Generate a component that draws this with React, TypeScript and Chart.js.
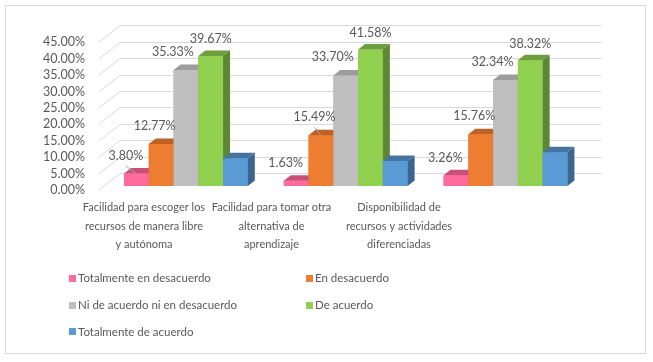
import React, { useEffect, useRef } from "react";
import { Chart, registerables } from "chart.js";

Chart.register(...registerables);

// ---------- data ----------
const categories = [
  ["Facilidad para escoger los", "recursos de manera libre", "y autónoma"],
  ["Facilidad para tomar otra", "alternativa de", "aprendizaje"],
  ["Disponibilidad de", "recursos y actividades", "diferenciadas"],
];
const seriesNames = [
  "Totalmente en desacuerdo",
  "En desacuerdo",
  "Ni de acuerdo ni en desacuerdo",
  "De acuerdo",
  "Totalmente de acuerdo",
];
const totalmenteEnDesacuerdo = [3.8, 1.63, 3.26];
const enDesacuerdo = [12.77, 15.49, 15.76];
const niDeAcuerdoNiEnDesacuerdo = [35.33, 33.7, 32.34];
const deAcuerdo = [39.67, 41.58, 38.32];
const totalmenteDeAcuerdo = [8.43, 7.6, 10.32];
const showValueLabel = [true, true, true, true, false];
const yTickValues = [0, 5, 10, 15, 20, 25, 30, 35, 40, 45];

const seriesValues = [
  totalmenteEnDesacuerdo,
  enDesacuerdo,
  niDeAcuerdoNiEnDesacuerdo,
  deAcuerdo,
  totalmenteDeAcuerdo,
];

// ---------- styles ----------
const FRONT = ["#FF6B9D", "#ED7D31", "#BFBFBF", "#92D050", "#5B9BD5"];
const TOP = ["#C9507A", "#BB6224", "#9C9C9C", "#6F9E3E", "#44749F"];
const SIDE = ["#B4466C", "#A5551E", "#8A8A8A", "#5E8634", "#3A6690"];
const LABEL_DX = [-10.5, -6.5, -13, 0];
const LABEL_DY = [-17.5, -18, -18, -16.7];
// labels that carry a small leader line: [series, category]
const LEADER_LINES = [
  [0, 0],
  [1, 1],
];
const TEXT = "#595959";
const GRID = "#D9D9D9";
const FONT = "Lato, 'Open Sans', sans-serif";

const BAR_DX = 7;
const BAR_DY = 5.5;
const WALL_FRONT_OFF = 4; // wall front plane below bar front plane
const WALL_DX_FRONT = -7;
const WALL_DX_BACK = 14;
const WALL_DY = 17;
const WALL_RIGHT_EXT = 16;

const depth3d = {
  id: "depth3d",
  beforeDatasetsDraw(chart: any) {
    const { ctx, chartArea, scales } = chart;
    const y = scales.y;
    ctx.save();
    ctx.strokeStyle = GRID;
    ctx.lineWidth = 1;
    yTickValues.forEach((v) => {
      const yf = y.getPixelForValue(v) + WALL_FRONT_OFF;
      const yb = Math.round(yf - WALL_DY) + 0.5;
      ctx.beginPath();
      ctx.moveTo(chartArea.left + WALL_DX_FRONT, yf);
      ctx.lineTo(chartArea.left + WALL_DX_BACK, yb);
      ctx.lineTo(chartArea.right + WALL_RIGHT_EXT, yb);
      ctx.stroke();
    });
    ctx.restore();
  },
  afterDatasetsDraw(chart: any) {
    const { ctx } = chart;
    ctx.save();
    const n = categories.length;
    for (let i = 0; i < n; i++) {
      for (let d = 0; d < seriesValues.length; d++) {
        const el = chart.getDatasetMeta(d).data[i];
        if (!el) continue;
        const p = el.getProps(["x", "y", "base", "width"], true);
        const x0 = p.x - p.width / 2;
        const x1 = p.x + p.width / 2;
        const top = p.y;
        const base = p.base;
        // front
        ctx.fillStyle = FRONT[d];
        ctx.fillRect(x0, top, x1 - x0, base - top);
        // top face
        ctx.fillStyle = TOP[d];
        ctx.beginPath();
        ctx.moveTo(x0, top);
        ctx.lineTo(x1, top);
        ctx.lineTo(x1 + BAR_DX, top - BAR_DY);
        ctx.lineTo(x0 + BAR_DX, top - BAR_DY);
        ctx.closePath();
        ctx.fill();
        // side face
        ctx.fillStyle = SIDE[d];
        ctx.beginPath();
        ctx.moveTo(x1, top);
        ctx.lineTo(x1 + BAR_DX, top - BAR_DY);
        ctx.lineTo(x1 + BAR_DX, base - BAR_DY);
        ctx.lineTo(x1, base);
        ctx.closePath();
        ctx.fill();
      }
    }
    // leader lines
    ctx.strokeStyle = "#A6A6A6";
    ctx.lineWidth = 1;
    LEADER_LINES.forEach(([d, i]) => {
      const el = chart.getDatasetMeta(d).data[i];
      if (!el) return;
      const p = el.getProps(["x", "y"], true);
      ctx.beginPath();
      ctx.moveTo(p.x + LABEL_DX[d], p.y + LABEL_DY[d] + 10);
      ctx.lineTo(p.x, p.y);
      ctx.stroke();
    });
    // value labels
    ctx.fillStyle = TEXT;
    ctx.font = `12.5px ${FONT}`;
    ctx.textAlign = "center";
    ctx.textBaseline = "middle";
    for (let d = 0; d < seriesValues.length; d++) {
      if (!showValueLabel[d]) continue;
      const meta = chart.getDatasetMeta(d);
      meta.data.forEach((el: any, i: number) => {
        const p = el.getProps(["x", "y"], true);
        ctx.fillText(
          seriesValues[d][i].toFixed(2) + "%",
          p.x + LABEL_DX[d],
          p.y + LABEL_DY[d]
        );
      });
    }
    ctx.restore();
  },
};

const W = 653;
const H = 362;
const AREA_LEFT = 106;
const AREA_RIGHT = 585.4;
const AREA_TOP = 38.4;
const AREA_BOTTOM = 186;
const X2_HEIGHT = 80;
// range of the label axis (category texts sit at 0, 1, 2)
const X2_MIN = -0.298;
const X2_MAX = 3.462;

export default function App() {
  const ref = useRef<HTMLCanvasElement>(null);

  useEffect(() => {
    if (!ref.current) return;
    const chart = new Chart(ref.current, {
      type: "bar",
      data: {
        labels: categories.map((c) => c.join(" ")),
        datasets: seriesValues.map((vals, d) => ({
          label: seriesNames[d],
          data: vals,
          backgroundColor: FRONT[d],
          borderWidth: 0,
          barPercentage: 1,
          categoryPercentage: 0.775,
        })),
      },
      options: {
        responsive: false,
        animation: false,
        devicePixelRatio: 1,
        layout: {
          padding: {
            left: 0,
            right: W - AREA_RIGHT,
            top: AREA_TOP,
            bottom: H - AREA_BOTTOM - X2_HEIGHT,
          },
        },
        plugins: {
          legend: { display: false },
          tooltip: { enabled: false },
        },
        scales: {
          x: {
            type: "category",
            display: false,
            grid: { display: false },
          },
          x2: {
            type: "linear",
            position: "bottom",
            min: X2_MIN,
            max: X2_MAX,
            offset: false,
            bounds: "data",
            grid: { display: false, drawTicks: false, offset: false },
            border: { display: false },
            afterBuildTicks: (axis: any) => {
              axis.ticks = categories.map((_, i) => ({ value: i }));
            },
            afterFit: (axis: any) => {
              axis.height = X2_HEIGHT;
            },
            ticks: {
              autoSkip: false,
              maxRotation: 0,
              minRotation: 0,
              padding: 12,
              color: TEXT,
              font: { family: FONT, size: 11, lineHeight: 1.7 },
              callback: (v: any) => categories[v as number] ?? "",
            },
          },
          y: {
            type: "linear",
            min: 0,
            max: 45,
            grid: { display: false, drawTicks: false },
            border: { display: false },
            afterFit: (axis: any) => {
              axis.width = AREA_LEFT;
            },
            afterBuildTicks: (axis: any) => {
              axis.ticks = yTickValues.map((v) => ({ value: v }));
            },
            ticks: {
              autoSkip: false,
              padding: 21,
              labelOffset: WALL_FRONT_OFF,
              color: TEXT,
              font: { family: FONT, size: 12.5 },
              callback: (v: any) => Number(v).toFixed(2) + "%",
            },
          },
        },
      },
      plugins: [depth3d],
    });
    return () => chart.destroy();
  }, []);

  const legendPos = [
    { sq: 69, tx: 78, y: 278 },
    { sq: 306, tx: 315, y: 278 },
    { sq: 69, tx: 78, y: 305 },
    { sq: 306, tx: 315, y: 305 },
    { sq: 69, tx: 78, y: 331.7 },
  ];

  return (
    <div
      style={{
        position: "fixed",
        left: 0,
        top: 0,
        width: W,
        height: H,
        background: "#fff",
        overflow: "hidden",
        fontFamily: FONT,
      }}
    >
      <div
        style={{
          position: "absolute",
          left: 5,
          top: 5,
          width: 641,
          height: 349,
          border: "1px solid #D9D9D9",
          boxSizing: "border-box",
        }}
      />
      <canvas
        ref={ref}
        width={W}
        height={H}
        style={{ position: "absolute", left: 0, top: 0, width: W, height: H }}
      />
      {seriesNames.map((name, d) => (
        <React.Fragment key={name}>
          <div
            style={{
              position: "absolute",
              left: legendPos[d].sq,
              top: legendPos[d].y - 3.5,
              width: 7,
              height: 7,
              background: FRONT[d],
            }}
          />
          <div
            style={{
              position: "absolute",
              left: legendPos[d].tx,
              top: legendPos[d].y - 8,
              height: 16,
              lineHeight: "16px",
              fontSize: 11.5,
              color: TEXT,
              whiteSpace: "nowrap",
            }}
          >
            {name}
          </div>
        </React.Fragment>
      ))}
    </div>
  );
}
